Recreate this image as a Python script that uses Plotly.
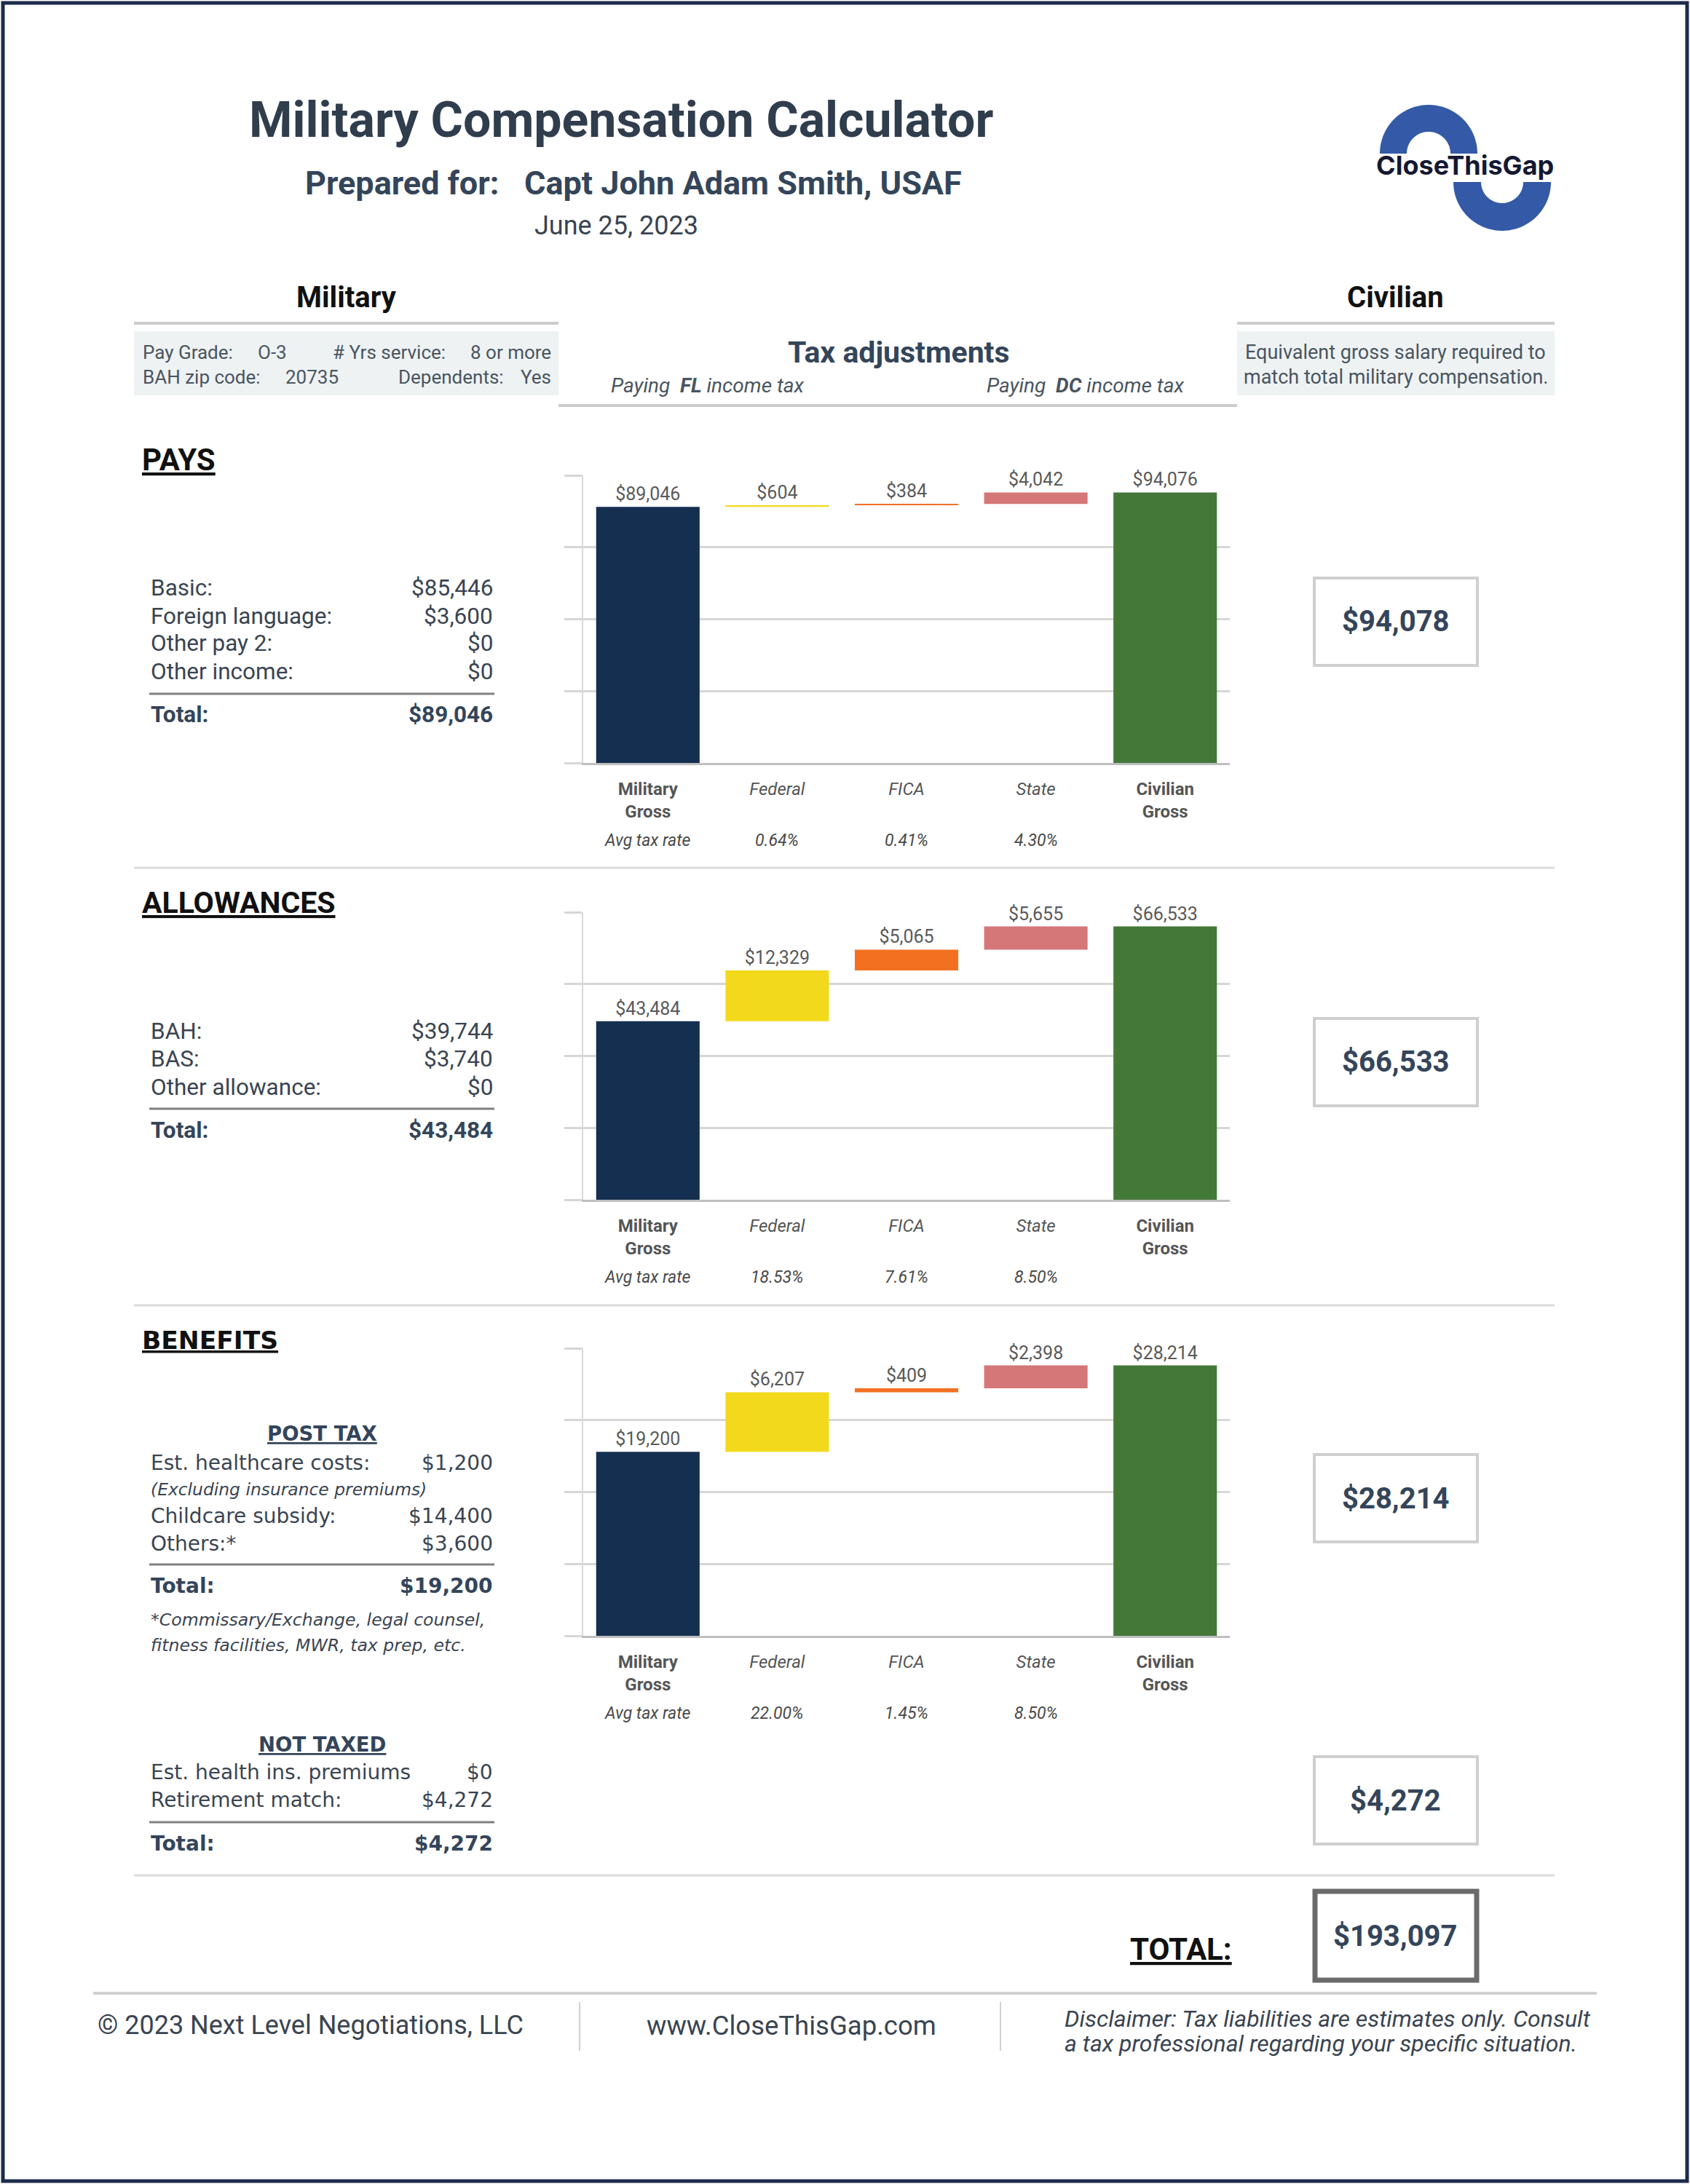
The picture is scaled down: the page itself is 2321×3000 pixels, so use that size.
import numpy as np
import plotly.graph_objects as go

W, H = 2321, 3000

# ---------------- data ----------------
categories = ["Military Gross", "Federal", "FICA", "State", "Civilian Gross"]
pays_values = [89046, 604, 384, 4042, 94076]
allowance_values = [43484, 12329, 5065, 5655, 66533]
benefit_values = [19200, 6207, 409, 2398, 28214]
pays_rates = ["0.64%", "0.41%", "4.30%"]
allowance_rates = ["18.53%", "7.61%", "8.50%"]
benefit_rates = ["22.00%", "1.45%", "8.50%"]
axis_max = [100000, 70000, 30000]
bar_colors = ["#152f51", "#f3d91b", "#f37021", "#d57679", "#437838"]
tick_text = ["<b>Military</b><br><b>Gross</b>", "<i>Federal</i>", "<i>FICA</i>",
             "<i>State</i>", "<b>Civilian</b><br><b>Gross</b>"]

pays_labels = ["Basic:", "Foreign language:", "Other pay 2:", "Other income:"]
pays_amounts = ["$85,446", "$3,600", "$0", "$0"]
pays_total = "$89,046"
allowance_labels = ["BAH:", "BAS:", "Other allowance:"]
allowance_amounts = ["$39,744", "$3,740", "$0"]
allowance_total = "$43,484"
post_tax_labels = ["Est. healthcare costs:", "Childcare subsidy:", "Others:*"]
post_tax_amounts = ["$1,200", "$14,400", "$3,600"]
post_tax_total = "$19,200"
not_taxed_labels = ["Est. health ins. premiums", "Retirement match:"]
not_taxed_amounts = ["$0", "$4,272"]
not_taxed_total = "$4,272"
civilian_amounts = ["$94,078", "$66,533", "$28,214", "$4,272"]
grand_total = "$193,097"

# ---------------- helpers ----------------
def fx(x):
    return x / W


def fy(y):
    return 1 - y / H


ann = []
shapes = []

TXT = "#3a4451"
SLATE = "#34455a"


def T(x, y, text, size, color=TXT, anchor="left", family="Roboto", yanchor="middle"):
    ann.append(dict(x=fx(x), y=fy(y), xref="paper", yref="paper", text=text,
                    showarrow=False, xanchor=anchor, yanchor=yanchor,
                    font=dict(size=size, color=color, family=family)))


def L(x0, y0, x1, y1, color="#d9d9d9", width=3):
    shapes.append(dict(type="line", xref="paper", yref="paper", x0=fx(x0), y0=fy(y0),
                       x1=fx(x1), y1=fy(y1), line=dict(color=color, width=width)))


def R(x0, y0, x1, y1, color="#cfcfcf", width=3, fill="rgba(0,0,0,0)"):
    shapes.append(dict(type="rect", xref="paper", yref="paper", x0=fx(x0), y0=fy(y0),
                       x1=fx(x1), y1=fy(y1), line=dict(color=color, width=width),
                       fillcolor=fill, layer="below"))


def half_ring(cx, cy, ro, ri, upper=True):
    th = np.linspace(np.pi, 0, 60)
    sgn = -1 if upper else 1
    pts = [(cx + ro * np.cos(t), cy + sgn * ro * np.sin(t)) for t in th]
    pts += [(cx + ri * np.cos(t), cy + sgn * ri * np.sin(t)) for t in th[::-1]]
    d = "M " + " L ".join(f"{fx(px):.5f},{fy(py):.5f}" for px, py in pts) + " Z"
    shapes.append(dict(type="path", xref="paper", yref="paper", path=d,
                       fillcolor="#3459a7", line=dict(width=0)))


# ---------------- frame / header ----------------
R(4, 4, 2317, 2996, color="#1c2b4b", width=5)

T(853, 165, "<b>Military Compensation Calculator</b>", 68, color="#2f3d4d", anchor="center")
T(417, 251, "<b>Prepared for:</b>", 45, color="#34455a")
T(718, 251, "<b>Capt John Adam Smith, USAF</b>", 45, color="#34455a")
T(846, 310, "June 25, 2023", 36, color="#3a4451", anchor="center")

# logo
half_ring(1962, 211, 67, 30, upper=True)
half_ring(2063, 250, 67, 29, upper=False)
T(2012, 227, "<b>CloseThisGap</b>", 36, color="#141932", anchor="center", family="Inter")

# column headers
T(476, 408, "<b>Military</b>", 40, color="#111111", anchor="center")
T(1917, 408, "<b>Civilian</b>", 40, color="#111111", anchor="center")
T(1234, 484, "<b>Tax adjustments</b>", 41, color="#34455a", anchor="center")
L(184, 444, 767, 444, color="#cccccc", width=4)
L(1699, 444, 2135, 444, color="#cccccc", width=4)
R(184, 455, 767, 543, color="rgba(0,0,0,0)", width=0, fill="#eef2f3")
R(1699, 455, 2135, 543, color="rgba(0,0,0,0)", width=0, fill="#eef2f3")
L(767, 557, 1699, 557, color="#cccccc", width=4)

INFO = "#4a5560"
T(194, 484, "Pay Grade:", 26, INFO)
T(352, 484, "O-3", 26, INFO)
T(455, 484, "# Yrs service:", 26, INFO)
T(759, 484, "8 or more", 26, INFO, anchor="right")
T(194, 518, "BAH zip code:", 26, INFO)
T(390, 518, "20735", 26, INFO)
T(545, 518, "Dependents:", 26, INFO)
T(759, 518, "Yes", 26, INFO, anchor="right")
T(1917, 484, "Equivalent gross salary required to", 27, INFO, anchor="center")
T(1917, 518, "match total military compensation.", 27, INFO, anchor="center")
T(972, 530, "<i>Paying  <b>FL</b> income tax</i>", 28, INFO, anchor="center")
T(1490, 530, "<i>Paying  <b>DC</b> income tax</i>", 28, INFO, anchor="center")

# ---------------- left tables ----------------
LX, RX = 205, 679
T(193, 631, "<b><u>PAYS</u></b>", 42, color="#111111")
for lab, amt, y in zip(pays_labels, pays_amounts, [807, 846, 884, 922]):
    T(LX, y, lab, 31.5)
    T(RX, y, amt, 31.5, anchor="right")
L(LX, 953, RX, 953, color="#808080", width=3)
T(LX, 982, "<b>Total:</b>", 31.5, color=SLATE)
T(RX, 982, f"<b>{pays_total}</b>", 31.5, color=SLATE, anchor="right")

T(193, 1240, "<b><u>ALLOWANCES</u></b>", 41, color="#111111")
for lab, amt, y in zip(allowance_labels, allowance_amounts, [1416, 1454, 1493]):
    T(LX, y, lab, 31.5)
    T(RX, y, amt, 31.5, anchor="right")
L(LX, 1523, RX, 1523, color="#808080", width=3)
T(LX, 1552, "<b>Total:</b>", 31.5, color=SLATE)
T(RX, 1552, f"<b>{allowance_total}</b>", 31.5, color=SLATE, anchor="right")

DV = "DejaVu Sans"
T(193, 1841, "<b><u>BENEFITS</u></b>", 34.5, color="#111111", family=DV)
T(442, 1969, "<b><u>POST TAX</u></b>", 27.5, color=SLATE, anchor="center", family=DV)
for lab, amt, y in zip(post_tax_labels, post_tax_amounts, [2009, 2082, 2120]):
    T(LX, y, lab, 28, family=DV)
    T(RX, y, amt, 28, anchor="right", family=DV)
T(LX, 2046, "<i>(Excluding insurance premiums)</i>", 23.4, family=DV)
L(LX, 2149, RX, 2149, color="#808080", width=3)
T(LX, 2178, "<b>Total:</b>", 28, color=SLATE, family=DV)
T(RX, 2178, f"<b>{post_tax_total}</b>", 28, color=SLATE, anchor="right", family=DV)
T(LX, 2225, "<i>*Commissary/Exchange, legal counsel,</i>", 23.6, family=DV)
T(LX, 2260, "<i>fitness facilities, MWR, tax prep, etc.</i>", 23.6, family=DV)

T(442, 2396, "<b><u>NOT TAXED</u></b>", 27.5, color=SLATE, anchor="center", family=DV)
for lab, amt, y in zip(not_taxed_labels, not_taxed_amounts, [2434, 2472]):
    T(LX, y, lab, 28, family=DV)
    T(RX, y, amt, 28, anchor="right", family=DV)
L(LX, 2503, RX, 2503, color="#808080", width=3)
T(LX, 2532, "<b>Total:</b>", 28, color=SLATE, family=DV)
T(RX, 2532, f"<b>{not_taxed_total}</b>", 28, color=SLATE, anchor="right", family=DV)

# section separators
for y in [1192, 1793, 2576]:
    L(184, y, 2135, y, color="#dcdcdc", width=3)

# ---------------- civilian boxes ----------------
for amt, yc in zip(civilian_amounts, [854, 1459, 2058, 2473]):
    R(1805, yc - 60, 2029, yc + 60, color="#cfcfcf", width=4)
    T(1917, yc, f"<b>{amt}</b>", 40, color=SLATE, anchor="center")
R(1806, 2598, 2028, 2720, color="#6b6b6b", width=7)
T(1917, 2659, f"<b>{grand_total}</b>", 40, color=SLATE, anchor="center")
T(1550, 2677, "<b><u>TOTAL:</u></b>", 42, color="#111111")

# ---------------- footer ----------------
L(128, 2738, 2193, 2738, color="#d0d0d0", width=4)
L(796, 2750, 796, 2817, color="#d0d0d0", width=2)
L(1374, 2750, 1374, 2817, color="#d0d0d0", width=2)
T(132, 2782, "© 2023 Next Level Negotiations, LLC", 36, color="#3a4451")
T(1087, 2782, "www.CloseThisGap.com", 36.5, color="#3a4451", anchor="center")
T(1460, 2773, "<i>Disclaimer: Tax liabilities are estimates only. Consult</i>", 32, color="#3a4451")
T(1460, 2807, "<i>a tax professional regarding your specific situation.</i>", 32, color="#3a4451")

# ---------------- charts ----------------
fig = go.Figure()
chart_tops = [653, 1253, 1852]
chart_bottoms = [1048, 1648, 2247]
series = [pays_values, allowance_values, benefit_values]
rates = [pays_rates, allowance_rates, benefit_rates]
xdom = [fx(801), fx(1689)]

layout_axes = {}
for i, (vals, rts, top, bot, m) in enumerate(zip(series, rates, chart_tops, chart_bottoms, axis_max)):
    n = i + 1
    xa = "x" if n == 1 else f"x{n}"
    ya = "y" if n == 1 else f"y{n}"
    bases = [0, vals[0], vals[0] + vals[1], vals[0] + vals[1] + vals[2], 0]
    fig.add_trace(go.Bar(
        x=categories, y=vals, base=bases, xaxis=xa, yaxis=ya,
        marker=dict(color=bar_colors, line=dict(width=0)),
        text=[f"${v:,}" for v in vals], textposition="outside", textangle=0,
        constraintext="none", cliponaxis=False,
        textfont=dict(size=25, color="#5a5a5a", family="Roboto"),
        hoverinfo="skip", showlegend=False, width=0.8,
    ))
    xkey = "xaxis" if n == 1 else f"xaxis{n}"
    ykey = "yaxis" if n == 1 else f"yaxis{n}"
    layout_axes[xkey] = dict(
        domain=xdom, anchor=ya, type="category", categoryorder="array",
        categoryarray=categories, range=[-0.5, 4.5], tickvals=categories,
        ticktext=tick_text, ticks="", showgrid=False, zeroline=False,
        showline=True, linecolor="#bfbfbf", linewidth=3,
        tickfont=dict(size=24, color="#555555", family="Roboto"),
        ticklabelstandoff=12, fixedrange=True,
    )
    layout_axes[ykey] = dict(
        domain=[fy(bot), fy(top)], anchor=xa, range=[0, m], tick0=0, dtick=m / 4,
        showgrid=True, gridcolor="#d6d6d6", gridwidth=3, ticks="outside",
        ticklen=24, tickwidth=3, tickcolor="#d6d6d6", showticklabels=False,
        showline=True, linecolor="#d9d9d9", linewidth=2, zeroline=False,
        fixedrange=True,
    )
    rate_y = bot + 106
    ann.append(dict(x=categories[0], y=fy(rate_y), xref=xa, yref="paper",
                    text="<i>Avg tax rate</i>", showarrow=False, yanchor="middle",
                    font=dict(size=23, color="#4a4a4a", family="Roboto")))
    for c, r in zip(categories[1:4], rts):
        ann.append(dict(x=c, y=fy(rate_y), xref=xa, yref="paper",
                        text=f"<i>{r}</i>", showarrow=False, yanchor="middle",
                        font=dict(size=23, color="#4a4a4a", family="Roboto")))

fig.update_layout(
    width=W, height=H, margin=dict(l=0, r=0, t=0, b=0),
    paper_bgcolor="white", plot_bgcolor="white",
    font=dict(family="Roboto", color=TXT),
    annotations=ann, shapes=shapes, showlegend=False,
    bargap=0.2, **layout_axes,
)

fig.write_html("out.html", config={"displayModeBar": False},
               post_script="document.body.style.margin='0px';")
